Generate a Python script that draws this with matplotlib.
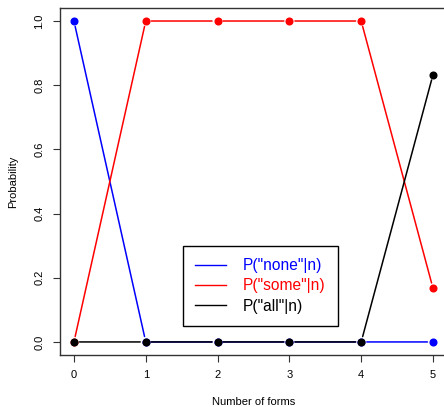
import matplotlib.pyplot as plt
import numpy as np

plt.rcParams['font.family'] = ['Liberation Sans', 'DejaVu Sans']

# data
n_forms = [0, 1, 2, 3, 4, 5]
p_none = [1.0, 0.0, 0.0, 0.0, 0.0, 0.0]
p_some = [0.0, 1.0, 1.0, 1.0, 1.0, 0.167]
p_all = [0.0, 0.0, 0.0, 0.0, 0.0, 0.833]
series = [(p_none, 'blue', 'P("none"|n)'),
          (p_some, 'red', 'P("some"|n)'),
          (p_all, 'black', 'P("all"|n)')]

fig = plt.figure(figsize=(4.44, 4.07), dpi=100)
ax = fig.add_axes([0.1342, 0.1283, 0.8734, 0.8516])

# R type="b": points with small gaps in the connecting lines
for vals, col, lab in series:
    for i in range(len(n_forms) - 1):
        ax.annotate('', xy=(n_forms[i + 1], vals[i + 1]), xytext=(n_forms[i], vals[i]),
                    arrowprops=dict(arrowstyle='-', color=col, lw=1.1,
                                    shrinkA=4, shrinkB=4))
    ax.plot(n_forms, vals, 'o', color=col, ms=4.8, mec=col, zorder=3)

ax.set_xlim(-0.2, 5.2)
ax.set_ylim(-0.04, 1.04)
ax.set_xticks(n_forms)
ax.set_yticks([0.0, 0.2, 0.4, 0.6, 0.8, 1.0])
ax.set_yticklabels(['0.0', '0.2', '0.4', '0.6', '0.8', '1.0'], rotation=90, va='center')
ax.tick_params(labelsize=8, length=5, width=0.8, color='#333333', pad=6)
for s in ax.spines.values():
    s.set_color('#333333')
    s.set_linewidth(1.0)

ax.set_xlabel('Number of forms', fontsize=8, labelpad=12)
ax.set_ylabel('Probability', fontsize=8, labelpad=12)

handles = [plt.Line2D([0], [0], color=c, lw=1) for _, c, _ in series]
leg = ax.legend(handles, [l for _, _, l in series], loc='lower left',
                bbox_to_anchor=(0.318, 0.082), fontsize=11.2, frameon=True,
                fancybox=False, edgecolor='black', framealpha=1,
                handlelength=1.95, handletextpad=1.1, borderpad=0.8,
                labelspacing=0.35, borderaxespad=0)
leg.get_frame().set_linewidth(1.0)
for t, (_, c, _) in zip(leg.get_texts(), series):
    t.set_color(c)

plt.savefig('out.png', dpi=100)
